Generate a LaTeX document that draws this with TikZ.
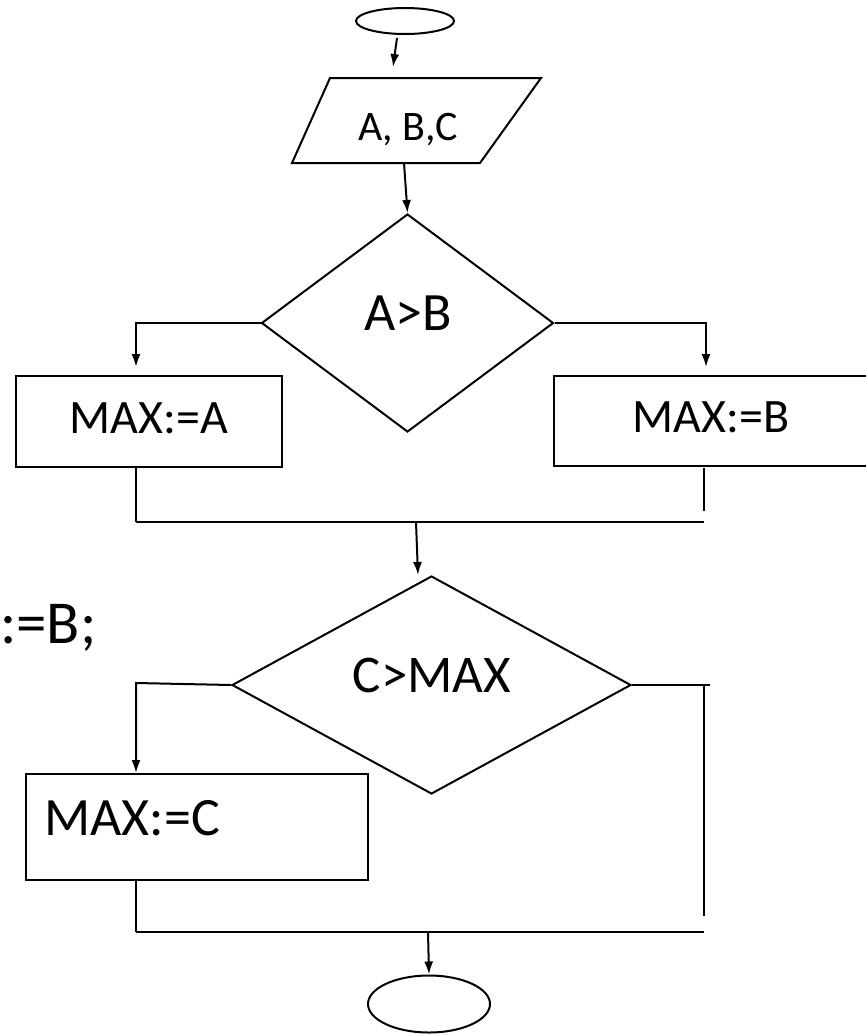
\documentclass[tikz,border=0pt]{standalone}
\usepackage{fontspec}
\setmainfont{Carlito}
\usetikzlibrary{shapes.geometric,arrows.meta,calc}
\begin{document}
\begin{tikzpicture}[x=1pt,y=-1pt,
  ln/.style={draw=black,line width=2pt},
  arr/.style={ln,-{Latex[length=13pt,width=9pt]}},
  term/.style={ellipse,draw,line width=2pt,inner sep=0pt},
  proc/.style={rectangle,draw,line width=2pt,inner sep=0pt},
  dec/.style={diamond,draw,line width=2pt,inner sep=0pt},
  txt/.style={inner sep=0pt,font=\fontsize{#1}{#1}\selectfont}
]
\useasboundingbox (0,0) rectangle (866,1034);
\clip (0,0) rectangle (866,1034);

% start terminal
\node[term,minimum width=98pt,minimum height=26pt] (start) at (405,21) {};
% input parallelogram
\draw[ln] (330,78) -- (541,78) -- (480,163) -- (292,163) -- cycle;
\node[txt=42] (inp) at (408,130) {A, B,C};
% decision 1
\node[dec,minimum width=292pt,minimum height=218pt] (d1) at (407.5,323) {};
\node[txt=54] (t1) at (408,313) {A>B};
% boxes
\node[proc,minimum width=266pt,minimum height=91pt] (ba) at (149,421.5) {};
\node[txt=48] (tba) at (149,418) {MAX:=A};
\node[proc,minimum width=316pt,minimum height=90pt] (bb) at (712,421) {};
\node[txt=48] (tbb) at (711,417) {MAX:=B};
% decision 2
\node[dec,minimum width=399pt,minimum height=218pt] (d2) at (431.5,685) {};
\node[txt=53] (t2) at (432,675) {C>MAX};
\node[proc,minimum width=342pt,minimum height=106pt] (bc) at (197,827) {};
\node[txt=54,anchor=west] (tbc) at (44,818) {MAX:=C};
% end terminal
\node[term,minimum width=122pt,minimum height=57pt] (stop) at (429,1004) {};
% text at left edge
\node[txt=61,anchor=west] (cut) at (0,628) {:=B;};

% coordinates
\coordinate (a1s) at (397,38);
\coordinate (a1e) at (393,67);
\coordinate (inpS) at (404,163);
\coordinate (lA) at (136,323);
\coordinate (lAe) at (136,367);
\coordinate (rB) at (706,323);
\coordinate (rBe) at (706,367);
\coordinate (baS) at (136,467);
\coordinate (bbS) at (704,468);
\coordinate (bbE) at (704,511);
\coordinate (j1L) at (136,522);
\coordinate (j1R) at (704,522);
\coordinate (j1M) at (416,522);
\coordinate (d2in) at (418,575);
\coordinate (lC) at (136,683);
\coordinate (rC) at (710,685);
\coordinate (rCv) at (704,685);
\coordinate (rCe) at (704,916);
\coordinate (bcS) at (136,880);
\coordinate (j2L) at (136,932);
\coordinate (j2R) at (704,932);
\coordinate (j2M) at (428,932);

% connectors
\draw[arr] (a1s) -- (a1e);
\draw[arr] (inpS) -- (d1.north);
\draw[arr] (d1.west) -- (lA) -- (lAe);
\draw[arr] (d1.east) -- (rB) -- (rBe);
\draw[ln] (baS) -- (j1L);
\draw[ln] (bbS) -- (bbE);
\draw[ln] (j1L) -- (j1R);
\draw[arr] (j1M) -- (d2in);
\draw[arr] (d2.west) -- (lC) -- (bc.north -| lC);
\draw[ln] (d2.east) -- (rC);
\draw[ln] (rCv) -- (rCe);
\draw[ln] (bcS) -- (j2L);
\draw[ln] (j2L) -- (j2R);
\draw[arr] (j2M) -- (stop.north);
\end{tikzpicture}
\end{document}
